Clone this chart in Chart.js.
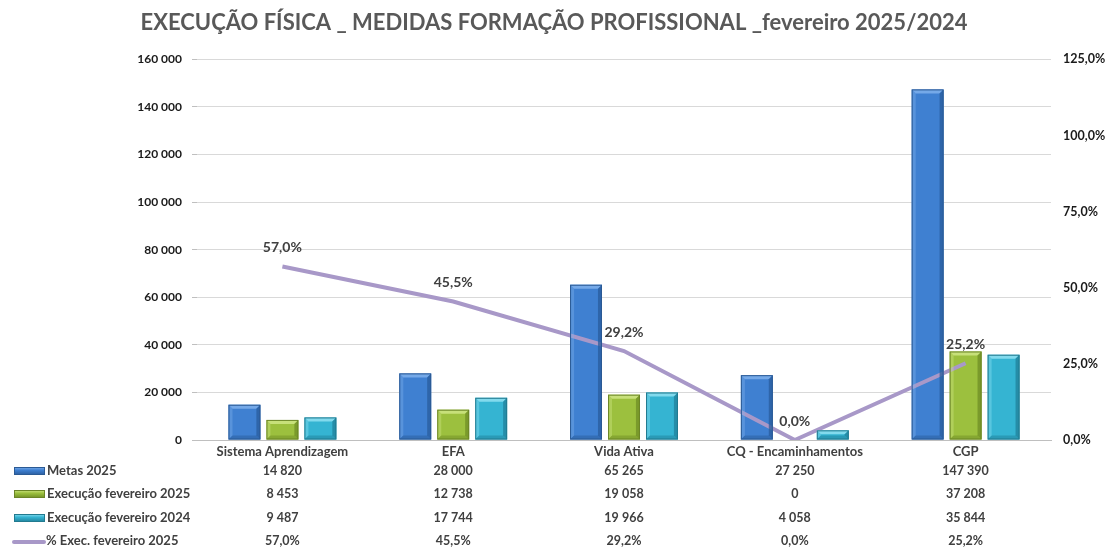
<!DOCTYPE html>
<html>
<head>
<meta charset="utf-8">
<script src="https://cdn.jsdelivr.net/npm/chart.js@4"></script>
<style>
html,body{margin:0;padding:0;background:#fff;}
#wrap{position:relative;width:1108px;height:547px;}
</style>
</head>
<body>
<div id="wrap"><canvas id="c" width="1108" height="547"></canvas></div>
<script>
const categories = ['Sistema Aprendizagem', 'EFA', 'Vida Ativa', 'CQ - Encaminhamentos', 'CGP'];
const seriesNames = ['Metas 2025', 'Execução fevereiro 2025', 'Execução fevereiro 2024', '% Exec. fevereiro 2025'];
const metas2025 = [14820, 28000, 65265, 27250, 147390];
const exec2025 = [8453, 12738, 19058, 0, 37208];
const exec2024 = [9487, 17744, 19966, 4058, 35844];
const pctExec2025 = [57.0, 45.5, 29.2, 0.0, 25.2];
const leftAxisMax = 160000, leftAxisStep = 20000;
const rightAxisMax = 125, rightAxisStep = 25;
const titleText = 'EXECUÇÃO FÍSICA _ MEDIDAS FORMAÇÃO PROFISSIONAL _fevereiro 2025/2024';

const FONT = 'Lato, "Liberation Sans", sans-serif';
const barStyles = [
  {fill:'#3f80d1', light:'#7fb0ec', dark:'#2a5c9c', border:'#2b5a94'},
  {fill:'#9cc03e', light:'#cfe585', dark:'#6f8d25', border:'#6b8527'},
  {fill:'#35b4d2', light:'#8fe0f2', dark:'#20809a', border:'#227a8f'}
];
const lineColor = '#a898c8';
const textColor = '#404040';

function fmtThousands(v){
  return String(Math.round(v)).replace(/\B(?=(\d{3})+(?!\d))/g, ' ');
}
function fmtPct(v){ return v.toFixed(1).replace('.', ',') + '%'; }

const bevelPlugin = {
  id:'bevel',
  afterDatasetsDraw(chart){
    const ctx = chart.ctx;
    chart.data.datasets.forEach((ds, di) => {
      if (ds.type !== 'bar') return;
      const st = barStyles[ds.styleIndex];
      const meta = chart.getDatasetMeta(di);
      meta.data.forEach(el => {
        const w = el.width, x0 = el.x - w/2, x1 = el.x + w/2, top = el.y, bot = el.base;
        const h = bot - top;
        if (h < 1) return;
        const b = Math.min(4, h/2);
        ctx.save();
        ctx.fillStyle = st.light; ctx.globalAlpha = 0.85;
        ctx.beginPath(); ctx.moveTo(x0, top); ctx.lineTo(x1, top); ctx.lineTo(x1-b, top+b); ctx.lineTo(x0+b, top+b); ctx.closePath(); ctx.fill();
        ctx.globalAlpha = 0.4;
        ctx.beginPath(); ctx.moveTo(x0, top); ctx.lineTo(x0+b, top+b); ctx.lineTo(x0+b, bot-b); ctx.lineTo(x0, bot); ctx.closePath(); ctx.fill();
        ctx.fillStyle = st.dark; ctx.globalAlpha = 0.75;
        ctx.beginPath(); ctx.moveTo(x1, top); ctx.lineTo(x1-b, top+b); ctx.lineTo(x1-b, bot-b); ctx.lineTo(x1, bot); ctx.closePath(); ctx.fill();
        ctx.globalAlpha = 0.5;
        ctx.beginPath(); ctx.moveTo(x0, bot); ctx.lineTo(x0+b, bot-b); ctx.lineTo(x1-b, bot-b); ctx.lineTo(x1, bot); ctx.closePath(); ctx.fill();
        ctx.globalAlpha = 1;
        ctx.strokeStyle = st.border; ctx.lineWidth = 1;
        ctx.strokeRect(x0+0.5, top+0.5, w-1, h-1);
        ctx.restore();
      });
    });
  }
};

const lineLabelPlugin = {
  id:'lineLabels',
  afterDraw(chart){
    const ctx = chart.ctx;
    const di = chart.data.datasets.findIndex(d => d.type === 'line');
    const meta = chart.getDatasetMeta(di);
    ctx.save();
    ctx.font = 'bold 14px ' + FONT;
    ctx.fillStyle = textColor;
    ctx.textAlign = 'center';
    ctx.textBaseline = 'middle';
    meta.data.forEach((pt, i) => {
      ctx.fillText(fmtPct(pctExec2025[i]), pt.x, pt.y - 19);
    });
    ctx.restore();
  }
};

const tablePlugin = {
  id:'dataTable',
  afterDraw(chart){
    const ctx = chart.ctx;
    const xs = chart.scales.x;
    const base = chart.chartArea.bottom;
    const rowOffsets = [31, 54, 78, 101];
    const rows = [metas2025.map(fmtThousands), exec2025.map(fmtThousands), exec2024.map(fmtThousands), pctExec2025.map(fmtPct)];
    ctx.save();
    rows.forEach((vals, r) => {
      const y = base + rowOffsets[r];
      if (r < 3) {
        const st = barStyles[r];
        const g = ctx.createLinearGradient(0, y-4, 0, y+4);
        g.addColorStop(0, st.light); g.addColorStop(0.4, st.fill); g.addColorStop(1, st.dark);
        ctx.fillStyle = g;
        ctx.fillRect(14, y-4, 31, 8);
        ctx.strokeStyle = st.border; ctx.lineWidth = 1;
        ctx.strokeRect(14.5, y-3.5, 30, 7);
      } else {
        ctx.strokeStyle = lineColor; ctx.lineWidth = 4; ctx.lineCap = 'round';
        ctx.beginPath(); ctx.moveTo(14, y+1); ctx.lineTo(44, y+1); ctx.stroke();
      }
      ctx.fillStyle = textColor;
      ctx.font = 'bold 13px ' + FONT;
      ctx.textAlign = 'left'; ctx.textBaseline = 'middle';
      ctx.fillText(seriesNames[r], r < 3 ? 47 : 46, y);
      ctx.font = 'bold 12.5px ' + FONT;
      ctx.textAlign = 'center';
      vals.forEach((v, i) => ctx.fillText(v, xs.getPixelForValue(i), y));
    });
    ctx.restore();
  }
};

new Chart(document.getElementById('c'), {
  data: {
    labels: categories,
    datasets: [
      {type:'line', label:seriesNames[3], data:pctExec2025, yAxisID:'y2', borderColor:lineColor, backgroundColor:lineColor,
       borderWidth:4, pointRadius:0, tension:0, order:0},
      {type:'bar', label:seriesNames[0], data:metas2025, yAxisID:'y', backgroundColor:barStyles[0].fill, styleIndex:0, order:1,
       barPercentage:0.84, categoryPercentage:0.667},
      {type:'bar', label:seriesNames[1], data:exec2025, yAxisID:'y', backgroundColor:barStyles[1].fill, styleIndex:1, order:1,
       barPercentage:0.84, categoryPercentage:0.667},
      {type:'bar', label:seriesNames[2], data:exec2024, yAxisID:'y', backgroundColor:barStyles[2].fill, styleIndex:2, order:1,
       barPercentage:0.84, categoryPercentage:0.667}
    ]
  },
  options: {
    responsive:false,
    animation:false,
    layout:{padding:{left:0, right:0, top:0, bottom:87}},
    plugins:{
      legend:{display:false},
      tooltip:{enabled:false},
      title:{display:true, text:titleText, color:'#595959', font:{family:FONT, size:22, weight:'bold', lineHeight:1.2},
             padding:{top:10, bottom:23}}
    },
    scales:{
      x:{
        grid:{display:false, drawTicks:false},
        border:{display:true, color:'#bfbfbf'},
        ticks:{color:textColor, font:{family:FONT, size:13, weight:'bold'}, padding:4, maxRotation:0, autoSkip:false},
        afterFit(s){ s.height = 20; }
      },
      y:{
        position:'left', min:0, max:leftAxisMax,
        ticks:{stepSize:leftAxisStep, color:'#1a1a1a', font:{family:FONT, size:12, weight:'bold'}, padding:10,
               callback:v => fmtThousands(v)},
        grid:{color:'#d9d9d9', tickLength:5, tickColor:'#bfbfbf'},
        border:{display:false},
        afterFit(s){ s.width = 197; }
      },
      y2:{
        position:'right', min:0, max:rightAxisMax,
        ticks:{stepSize:rightAxisStep, color:'#1a1a1a', font:{family:FONT, size:12.5, weight:'bold'}, padding:12,
               callback:v => fmtPct(v)},
        grid:{display:false, drawTicks:false},
        border:{display:false},
        afterFit(s){ s.width = 57; }
      }
    }
  },
  plugins:[bevelPlugin, lineLabelPlugin, tablePlugin]
});
</script>
</body>
</html>
